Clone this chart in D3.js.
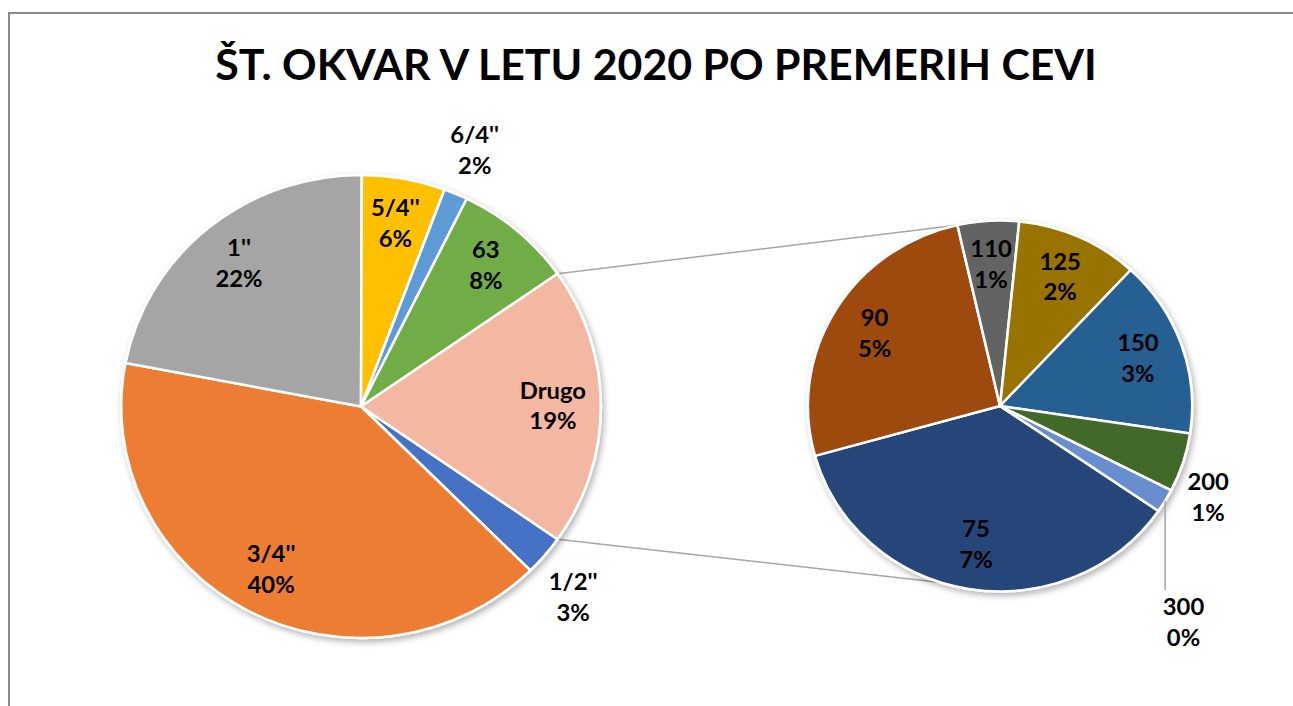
<!DOCTYPE html>
<html>
<head>
<meta charset="utf-8">
<script src="https://cdn.jsdelivr.net/npm/d3@7"></script>
<style>
  body { margin: 0; background: #fff; }
  text { font-family: Lato, "Open Sans", sans-serif; font-weight: bold; fill: #000; }
</style>
</head>
<body>
<div id="chart"></div>
<script>
const title = "ŠT. OKVAR V LETU 2020 PO PREMERIH CEVI";

// main pie (the last slice "Drugo" is the sum of the second pie)
const mainLabels = ["1/2''", "3/4''", "1''", "5/4''", "6/4''", "63"];
const mainCounts = [14, 202, 110, 28, 8, 40];
const otherName = "Drugo";

// second pie
const otherLabels = ["75", "90", "110", "125", "150", "200", "300"];
const otherCounts = [35, 25, 5, 10, 15, 5, 2];

const mainColors = ["#4472C4", "#ED7D31", "#A5A5A5", "#FFC000", "#5B9BD5", "#70AD47", "#F4B8A2"];
const otherColors = ["#264478", "#9E480E", "#636363", "#997300", "#255E91", "#43682B", "#698ED0"];

const W = 1293, H = 706;
const sx = 1.036; // chart is slightly wider than tall
const main = { cx: 348.5, cy: 406.5, r: 231.5 };
const second = { cx: 965.3, cy: 406, r: 185.5 };
const lineGap = 31;
const labelSize = 23;

const drugoCount = d3.sum(otherCounts);
const mainData = mainLabels.map((l, i) => ({ label: l, value: mainCounts[i] }))
  .concat([{ label: otherName, value: drugoCount }]);
const otherData = otherLabels.map((l, i) => ({ label: l, value: otherCounts[i] }));
const total = d3.sum(mainData, d => d.value);
const pct = d3.format(".0%");
const rad = Math.PI / 180;

// label placement: radius factor and angle shift (deg)
const mainPlace = { "6/4''": { r: 1.2, da: 0 }, "1/2''": { r: 1.21, da: 3 } };
const otherPlace = { "200": { r: 1.19, da: 6.7 }, "300": { r: 1.51, da: 20, leader: true } };

const svg = d3.select("#chart").append("svg")
  .attr("width", W)
  .attr("height", H);

const defs = svg.append("defs");
const f = defs.append("filter").attr("id", "shadow")
  .attr("x", "-10%").attr("y", "-10%").attr("width", "130%").attr("height", "130%");
f.append("feDropShadow")
  .attr("dx", 2).attr("dy", 3).attr("stdDeviation", 3)
  .attr("flood-color", "#000").attr("flood-opacity", 0.3);

svg.append("rect")
  .attr("x", 9).attr("y", 13)
  .attr("width", W + 20).attr("height", H + 20)
  .attr("fill", "#fff")
  .attr("stroke", "#898989")
  .attr("stroke-width", 2);

const root = svg.append("g").attr("transform", `scale(${sx},1)`);

root.append("text")
  .attr("x", 633.2)
  .attr("y", 80)
  .attr("text-anchor", "middle")
  .attr("font-size", 42)
  .attr("textLength", 851)
  .attr("lengthAdjust", "spacingAndGlyphs")
  .text(title);

const fd = drugoCount / total;
const mainPie = d3.pie().sort(null).value(d => d.value)
  .startAngle(Math.PI / 2 + fd * Math.PI)
  .endAngle(Math.PI / 2 + fd * Math.PI + 2 * Math.PI);
const otherPie = d3.pie().sort(null).value(d => d.value)
  .startAngle(124.5 * rad)
  .endAngle(124.5 * rad + 2 * Math.PI);

const mainArcs = mainPie(mainData);
const otherArcs = otherPie(otherData);

const pt = (c, a, r) => [c.cx + Math.sin(a) * r, c.cy - Math.cos(a) * r];

// connector lines from the "Drugo" slice to the second pie
const dr = mainArcs[mainArcs.length - 1];
const connectors = [
  [pt(main, dr.startAngle, main.r), pt(second, -13 * rad, second.r)],
  [pt(main, dr.endAngle, main.r), pt(second, 198 * rad, second.r)]
];
root.selectAll("line.conn")
  .data(connectors)
  .enter()
  .append("line")
  .attr("class", "conn")
  .attr("x1", d => d[0][0]).attr("y1", d => d[0][1])
  .attr("x2", d => d[1][0]).attr("y2", d => d[1][1])
  .attr("stroke", "#a6a6a6")
  .attr("stroke-width", 1.5);

function drawPie(c, arcs, colors, place, defR) {
  const arc = d3.arc().innerRadius(0).outerRadius(c.r);
  const g = root.append("g")
    .attr("transform", `translate(${c.cx},${c.cy})`);
  g.append("g")
    .attr("filter", "url(#shadow)")
    .selectAll("path")
    .data(arcs)
    .enter()
    .append("path")
    .attr("d", arc)
    .attr("fill", (d, i) => colors[i])
    .attr("stroke", "#fff")
    .attr("stroke-width", 2.5)
    .attr("stroke-linejoin", "round");

  arcs.forEach(d => {
    const p = place[d.data.label] || { r: defR, da: 0 };
    const mid = (d.startAngle + d.endAngle) / 2;
    const a = mid + p.da * rad;
    const x = Math.sin(a) * c.r * p.r;
    const y = -Math.cos(a) * c.r * p.r;
    if (p.leader) {
      const s = [Math.sin(mid) * c.r, -Math.cos(mid) * c.r];
      g.append("line")
        .attr("x1", s[0]).attr("y1", s[1])
        .attr("x2", s[0]).attr("y2", y - 33)
        .attr("stroke", "#a6a6a6")
        .attr("stroke-width", 1.5);
    }
    const t = g.append("g").attr("transform", `translate(${x},${y})`);
    t.append("text")
      .attr("text-anchor", "middle")
      .attr("y", -8)
      .attr("font-size", labelSize)
      .text(d.data.label);
    t.append("text")
      .attr("text-anchor", "middle")
      .attr("y", -8 + lineGap)
      .attr("font-size", labelSize)
      .text(pct(d.data.value / total));
  });
}

drawPie(main, mainArcs, mainColors, mainPlace, 0.8);
drawPie(second, otherArcs, otherColors, otherPlace, 0.76);
</script>
</body>
</html>
